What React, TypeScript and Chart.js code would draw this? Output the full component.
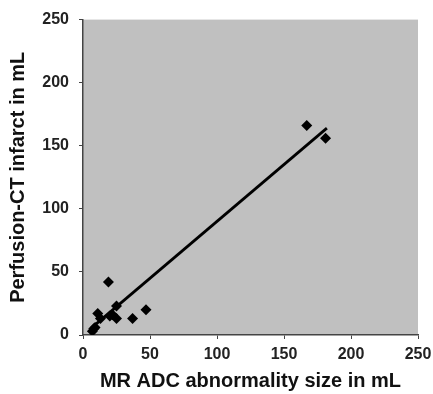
import React, { useEffect, useRef } from "react";
import { Chart, registerables } from "chart.js";

Chart.register(...registerables);

const mrAdc = [7, 8, 9, 11, 13, 19, 20, 22, 25, 25, 37, 47, 167, 181];
const perfusionCt = [3, 5, 6, 17, 13, 42, 15, 16, 23, 13, 13, 20, 166, 156];
const fitX = [9, 182];
const fitY = [8, 164];
const xTicks = [0, 50, 100, 150, 200, 250];
const yTicks = [0, 50, 100, 150, 200, 250];

const bgPlugin = {
  id: "plotBg",
  beforeDraw(chart: any) {
    const { ctx, chartArea } = chart;
    ctx.save();
    ctx.fillStyle = "#c0c0c0";
    ctx.fillRect(chartArea.left, chartArea.top, chartArea.right - chartArea.left, chartArea.bottom - chartArea.top);
    ctx.restore();
  },
};

export default function App() {
  const ref = useRef<HTMLCanvasElement>(null);
  useEffect(() => {
    document.body.style.margin = "0";
    const font = "'Liberation Sans', Arial, sans-serif";
    const chart = new Chart(ref.current!, {
      type: "scatter",
      data: {
        datasets: [
          {
            type: "line",
            data: fitX.map((x, i) => ({ x, y: fitY[i] })),
            borderColor: "#000",
            borderWidth: 2.8,
            pointRadius: 0,
            fill: false,
          } as any,
          {
            data: mrAdc.map((x, i) => ({ x, y: perfusionCt[i] })),
            backgroundColor: "#000",
            borderColor: "#000",
            pointStyle: "rectRot",
            pointRadius: 5.5,
            borderWidth: 0,
          },
        ],
      },
      options: {
        animation: false,
        responsive: false,
        maintainAspectRatio: false,
        layout: { padding: { top: 18, right: 0, bottom: 1, left: 0 } },
        plugins: { legend: { display: false }, tooltip: { enabled: false } },
        scales: {
          x: {
            type: "linear",
            min: 0,
            max: 250,
            afterBuildTicks: (s: any) => { s.ticks = xTicks.map((v) => ({ value: v })); },
            afterFit: (s: any) => { s.height = 58; s.paddingRight = 15; s.paddingLeft = 0; },
            grid: { display: true, drawOnChartArea: false, drawTicks: true, tickLength: 4, color: "#444" },
            border: { display: true, color: "#444", width: 1.5 },
            ticks: { color: "#222", font: { family: font, size: 16, weight: "bold" }, padding: 6, maxRotation: 0 },
            title: { display: true, text: "MR ADC abnormality size in mL", color: "#111", font: { family: font, size: 20, weight: "bold" }, padding: { top: 2, bottom: 0 } },
          },
          y: {
            type: "linear",
            min: 0,
            max: 250,
            afterBuildTicks: (s: any) => { s.ticks = yTicks.map((v) => ({ value: v })); },
            afterFit: (s: any) => { s.width = 83; },
            grid: { display: true, drawOnChartArea: false, drawTicks: true, tickLength: 4, color: "#444" },
            border: { display: true, color: "#444", width: 1.5 },
            ticks: { color: "#222", font: { family: font, size: 16, weight: "bold" }, padding: 10 },
            title: { display: true, text: "Perfusion-CT infarct in mL", color: "#111", font: { family: font, size: 20, weight: "bold" }, padding: { top: 6, bottom: 0 } },
          },
        },
      },
      plugins: [bgPlugin],
    });
    return () => chart.destroy();
  }, []);
  return <canvas ref={ref} width={433} height={394} style={{ display: "block" }} />;
}
